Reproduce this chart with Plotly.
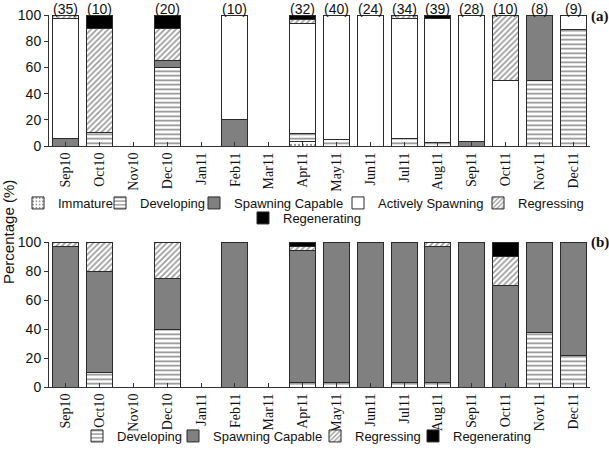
import plotly.graph_objects as go

months = ["Sep10", "Oct10", "Nov10", "Dec10", "Jan11", "Feb11", "Mar11", "Apr11",
          "May11", "Jun11", "Jul11", "Aug11", "Sep11", "Oct11", "Nov11", "Dec11"]
counts_a = [35, 10, None, 20, None, 10, None, 32, 40, 24, 34, 39, 28, 10, 8, 9]

# Panel (a) percentages
a_immature = [None, None, None, None, None, None, None, 3.1, None, None, None, None, None, None, None, None]
a_developing = [None, 10, None, 60, None, None, None, 6.3, 5, None, 5.9, 2.6, None, None, 50, 88.9]
a_spawncap = [5.7, None, None, 5, None, 20, None, None, None, None, None, None, 3.6, None, 50, None]
a_active = [91.4, None, None, None, None, 80, None, 84.4, 95, 100, 91.2, 94.8, 96.4, 50, None, 11.1]
a_regressing = [2.9, 80, None, 25, None, None, None, 3.1, None, None, 2.9, None, None, 50, None, None]
a_regenerating = [None, 10, None, 10, None, None, None, 3.1, None, None, None, 2.6, None, None, None, None]

# Panel (b) percentages
b_developing = [None, 10, None, 40, None, None, None, 3, 3, None, 3, 3, None, None, 37.5, 22]
b_spawncap = [97, 70, None, 35, None, 100, None, 91, 97, 100, 97, 94, 100, 70, 62.5, 78]
b_regressing = [3, 20, None, 25, None, None, None, 3, None, None, None, 3, None, 20, None, None]
b_regenerating = [None, None, None, None, None, None, None, 3, None, None, None, None, None, 10, None, None]

LINE = dict(color="#2a2a2a", width=1)
GRAY = "#808080"

W, H = 609, 451
ML, MR, MT, MB = 49, 19, 15, 64
PW = W - ML - MR
PH = H - MT - MB


def px_x(px):
    return (px - ML) / PW


def px_y(py):
    return (H - MB - py) / PH


def style(name):
    if name == "Immature":
        return dict(color="white", line=LINE,
                    pattern=dict(shape=".", fgcolor="#222", bgcolor="white", size=4, solidity=0.25))
    if name == "Developing":
        return dict(color="white", line=LINE,
                    pattern=dict(shape="-", fgcolor="#111", bgcolor="white", size=4.5, solidity=0.35))
    if name == "Spawning Capable":
        return dict(color=GRAY, line=LINE)
    if name == "Actively Spawning":
        return dict(color="white", line=LINE)
    if name == "Regressing":
        return dict(color="white", line=LINE,
                    pattern=dict(shape="/", fgcolor="#333", bgcolor="white", size=4, solidity=0.4))
    return dict(color="black", line=LINE)


SANS = "Liberation Sans, Arial, sans-serif"
SERIF = "Liberation Serif, Times New Roman, serif"
legfont = dict(family=SANS, size=13, color="#111")

fig = go.Figure()

series_a = [("Immature", a_immature), ("Developing", a_developing),
            ("Spawning Capable", a_spawncap), ("Actively Spawning", a_active),
            ("Regressing", a_regressing), ("Regenerating", a_regenerating)]
series_b = [("Developing", b_developing), ("Spawning Capable", b_spawncap),
            ("Regressing", b_regressing), ("Regenerating", b_regenerating)]

# legend entry positions (text start x in px, row centre y in px)
leg_pos_a = [(58, 203), (140, 203), (234, 203), (378, 203), (518, 203), (283, 218)]
leg_pos_b = [(117, 436), (213, 436), (355, 436), (453, 436)]

legend_layouts = {}
k = 0
for (name, vals), (tx, ty) in zip(series_a, leg_pos_a):
    k += 1
    lname = "legend" if k == 1 else f"legend{k}"
    fig.add_trace(go.Bar(x=months, y=vals, name=name, marker=style(name), width=0.77,
                         xaxis="x", yaxis="y", legend=lname))
    legend_layouts[lname] = dict(orientation="h", x=px_x(tx - 40), xanchor="left",
                                 y=px_y(ty), yanchor="middle", font=legfont,
                                 bgcolor="rgba(0,0,0,0)", borderwidth=0)
for (name, vals), (tx, ty) in zip(series_b, leg_pos_b):
    k += 1
    lname = f"legend{k}"
    fig.add_trace(go.Bar(x=months, y=vals, name=name, marker=style(name), width=0.77,
                         xaxis="x2", yaxis="y2", legend=lname))
    legend_layouts[lname] = dict(orientation="h", x=px_x(tx - 40), xanchor="left",
                                 y=px_y(ty), yanchor="middle", font=legfont,
                                 bgcolor="rgba(0,0,0,0)", borderwidth=0)

xcommon = dict(type="category", categoryorder="array", categoryarray=months,
               range=[-0.5, 15.5], showline=True, linecolor="#333", linewidth=1,
               ticks="inside", ticklen=4, tickcolor="#333", tickangle=-90,
               tickfont=dict(family=SERIF, size=14, color="#111"), showgrid=False,
               zeroline=False, automargin=False)
ycommon = dict(range=[0, 100], dtick=20, showline=True, linecolor="#333", linewidth=1,
               ticks="outside", ticklen=4, tickcolor="#333",
               tickfont=dict(family=SANS, size=14, color="#111"), showgrid=False,
               zeroline=False, automargin=False)

annotations = []
for m, c in zip(months, counts_a):
    if c is not None:
        annotations.append(dict(x=m, y=100, xref="x", yref="y", text=f"({c})",
                                showarrow=False, yanchor="bottom", yshift=-3,
                                borderpad=0,
                                font=dict(family=SANS, size=14, color="#111")))
annotations += [
    dict(x=px_x(600), y=px_y(16), xref="paper", yref="paper", text="<b>(a)</b>", showarrow=False,
         xanchor="center", yanchor="middle", font=dict(family=SERIF, size=15, color="#111")),
    dict(x=px_x(600), y=px_y(242), xref="paper", yref="paper", text="<b>(b)</b>", showarrow=False,
         xanchor="center", yanchor="middle", font=dict(family=SERIF, size=15, color="#111")),
    dict(x=px_x(9), y=px_y(232), xref="paper", yref="paper", text="Percentage (%)", showarrow=False,
         textangle=-90, xanchor="center", yanchor="middle",
         font=dict(family=SANS, size=15, color="#111")),
]

fig.update_layout(
    width=W, height=H,
    margin=dict(l=ML, r=MR, t=MT, b=MB, autoexpand=False),
    barmode="stack", bargap=0.23,
    plot_bgcolor="white", paper_bgcolor="white",
    xaxis=dict(xcommon, anchor="y"),
    yaxis=dict(ycommon, domain=[px_y(146), 1.0], anchor="x"),
    xaxis2=dict(xcommon, anchor="y2"),
    yaxis2=dict(ycommon, domain=[0.0, px_y(242)], anchor="x2"),
    annotations=annotations,
    showlegend=True,
    hovermode=False,
    **legend_layouts,
)

fig.write_html("out.html", config={"displayModeBar": False},
               post_script="document.body.style.margin='0';")
